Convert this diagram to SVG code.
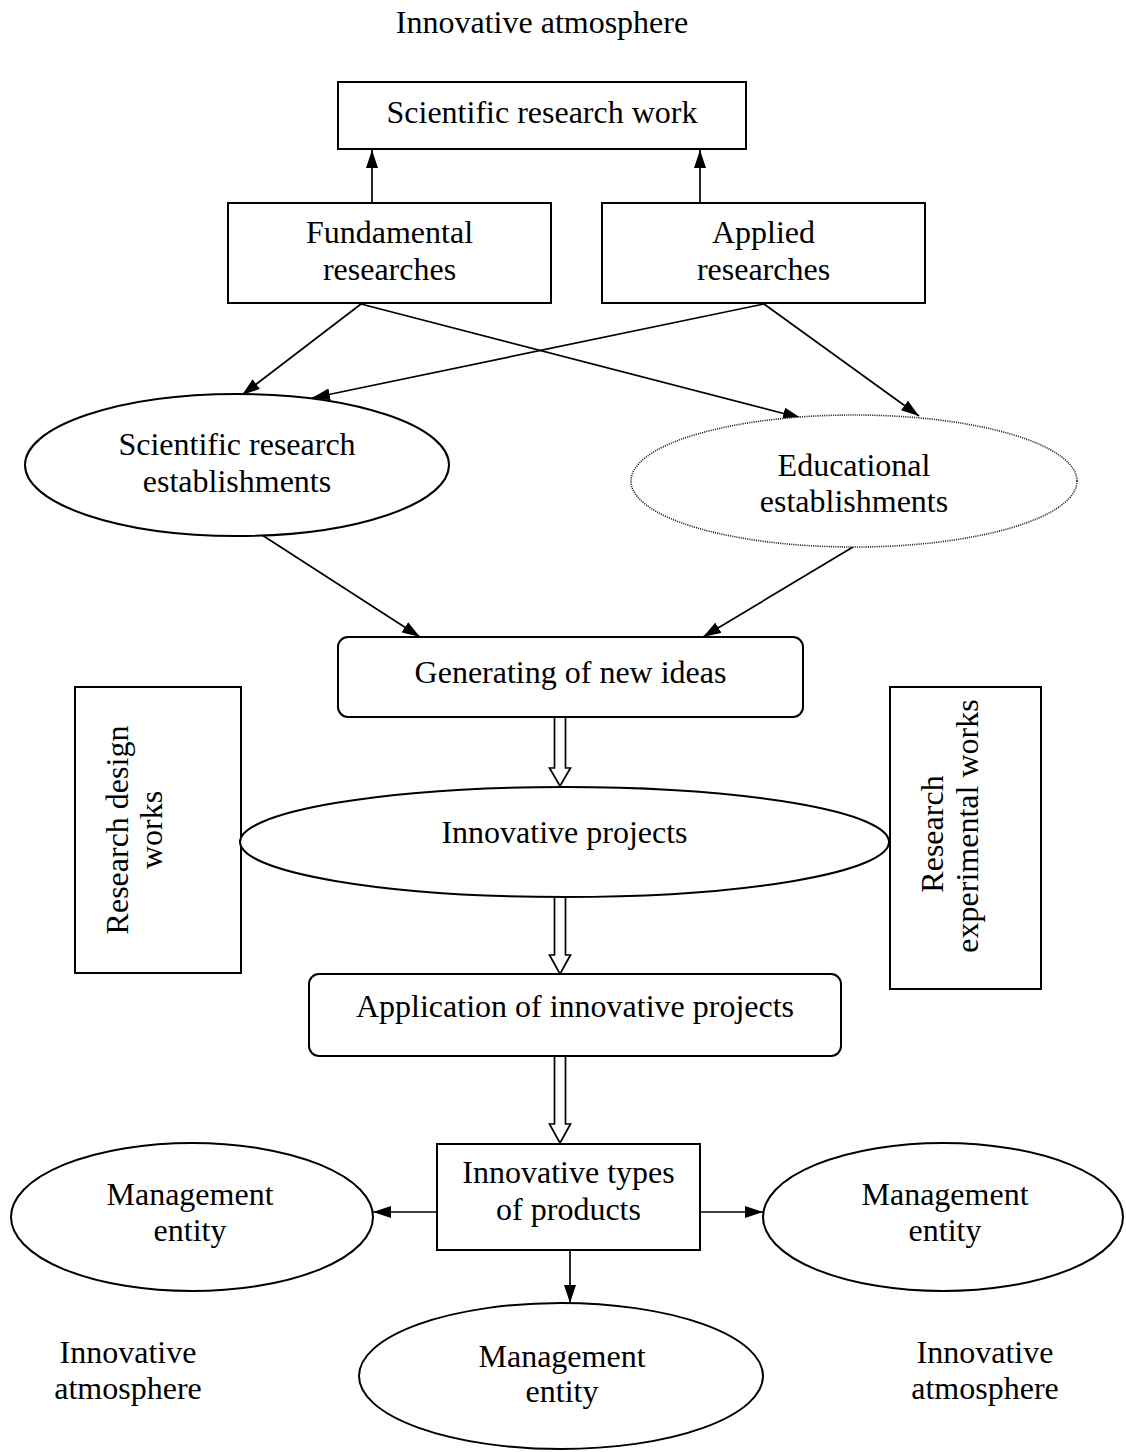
<svg xmlns="http://www.w3.org/2000/svg" width="1126" height="1452" viewBox="0 0 1126 1452">
<style>
text{font-family:"Liberation Serif","Times New Roman",serif;font-size:32px;fill:#000;text-anchor:middle}
.b{fill:#fff;stroke:#000;stroke-width:2}
.l{fill:none;stroke:#000;stroke-width:1.7}
.h{fill:#fff;stroke:#000;stroke-width:1.7}
.d{fill:#fff;stroke:#222;stroke-width:1.6;stroke-dasharray:1.1 1.1}
</style>
<defs>
<marker id="a" markerUnits="userSpaceOnUse" markerWidth="18" markerHeight="12" refX="18" refY="6" orient="auto">
<path d="M0,0 L18,6 L0,12 Z" fill="#000"/>
</marker>
</defs>
<rect width="1126" height="1452" fill="#fff"/>
<g id="connectors">
<line class="l" x1="372" y1="203" x2="372" y2="150" marker-end="url(#a)"/>
<line class="l" x1="700" y1="203" x2="700" y2="150" marker-end="url(#a)"/>
<line class="l" x1="361" y1="304" x2="242" y2="395" marker-end="url(#a)"/>
<line class="l" x1="361" y1="304" x2="801" y2="418" marker-end="url(#a)"/>
<line class="l" x1="764" y1="304" x2="312" y2="398" marker-end="url(#a)"/>
<line class="l" x1="764" y1="304" x2="919" y2="416" marker-end="url(#a)"/>
<line class="l" x1="262" y1="535" x2="420" y2="637" marker-end="url(#a)"/>
<line class="l" x1="853" y1="547" x2="703" y2="637" marker-end="url(#a)"/>
<path class="h" d="M554.5,717 V768 H549.5 L560,786 L570.5,768 H565.5 V717"/>
<path class="h" d="M554.5,897 V955 H549.5 L560,974 L570.5,955 H565.5 V897"/>
<path class="h" d="M554.5,1056 V1124 H549.5 L560,1143 L570.5,1124 H565.5 V1056"/>
<line class="l" x1="437" y1="1212" x2="373" y2="1212" marker-end="url(#a)"/>
<line class="l" x1="700" y1="1212" x2="763" y2="1212" marker-end="url(#a)"/>
<line class="l" x1="570" y1="1250" x2="570" y2="1303" marker-end="url(#a)"/>
</g>
<g id="title"><text x="542" y="33">Innovative atmosphere</text></g>
<g id="srw"><rect class="b" x="338" y="82" width="408" height="67"/><text x="542" y="123">Scientific research work</text></g>
<g id="fundamental"><rect class="b" x="228" y="203" width="323" height="100"/><text x="389.5" y="243">Fundamental</text><text x="389.5" y="280">researches</text></g>
<g id="applied"><rect class="b" x="602" y="203" width="323" height="100"/><text x="763.5" y="243">Applied</text><text x="763.5" y="280">researches</text></g>
<g id="sre"><ellipse class="b" cx="237" cy="465" rx="212" ry="71"/><text x="237" y="455">Scientific research</text><text x="237" y="492">establishments</text></g>
<g id="edu"><ellipse class="d" cx="854" cy="481" rx="223" ry="66"/><text x="854" y="476">Educational</text><text x="854" y="512">establishments</text></g>
<g id="generating"><rect class="b" x="338" y="637" width="465" height="80" rx="10"/><text x="570.5" y="683">Generating of new ideas</text></g>
<g id="rdw"><rect class="b" x="75" y="687" width="166" height="286"/><text transform="translate(128 830) rotate(-90)">Research design</text><text transform="translate(162 830) rotate(-90)">works</text></g>
<g id="rew"><rect class="b" x="890" y="687" width="151" height="302"/><text transform="translate(943 834) rotate(-90)">Research</text><text transform="translate(978 826) rotate(-90)">experimental works</text></g>
<g id="projects"><ellipse class="b" cx="564.5" cy="842" rx="324.5" ry="55"/><text x="564.5" y="843">Innovative projects</text></g>
<g id="application"><rect class="b" x="309" y="974" width="532" height="82" rx="10"/><text x="575" y="1017">Application of innovative projects</text></g>
<g id="products"><rect class="b" x="437" y="1144" width="263" height="106"/><text x="568.5" y="1183">Innovative types</text><text x="568.5" y="1220">of products</text></g>
<g id="me-left"><ellipse class="b" cx="192" cy="1217" rx="181" ry="74"/><text x="190" y="1205">Management</text><text x="190" y="1241">entity</text></g>
<g id="me-right"><ellipse class="b" cx="943" cy="1217" rx="180" ry="74"/><text x="945" y="1205">Management</text><text x="945" y="1241">entity</text></g>
<g id="me-bottom"><ellipse class="b" cx="561" cy="1376" rx="202" ry="73"/><text x="562" y="1367">Management</text><text x="562" y="1402">entity</text></g>
<g id="atm-left"><text x="128" y="1363">Innovative</text><text x="128" y="1399">atmosphere</text></g>
<g id="atm-right"><text x="985" y="1363">Innovative</text><text x="985" y="1399">atmosphere</text></g>
</svg>
